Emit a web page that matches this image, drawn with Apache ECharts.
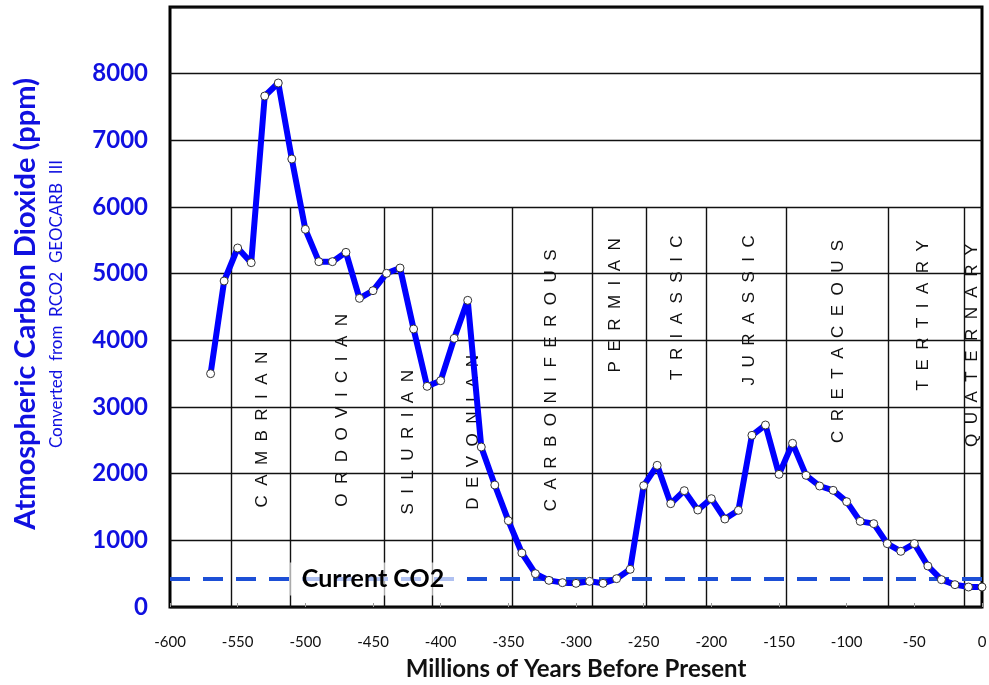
<!DOCTYPE html>
<html>
<head>
<meta charset="utf-8">
<script src="https://cdn.jsdelivr.net/npm/echarts@6/dist/echarts.min.js"></script>
<style>
html,body{margin:0;padding:0;background:#fff;}
#chart{width:989px;height:685px;}
</style>
</head>
<body>
<div id="chart"></div>
<script>
// Millions of years before present (x) and CO2 ppm (y)
var years = [-570,-560,-550,-540,-530,-520,-510,-500,-490,-480,-470,-460,-450,-440,-430,-420,-410,-400,-390,-380,-370,-360,-350,-340,-330,-320,-310,-300,-290,-280,-270,-260,-250,-240,-230,-220,-210,-200,-190,-180,-170,-160,-150,-140,-130,-120,-110,-100,-90,-80,-70,-60,-50,-40,-30,-20,-10,0];
var co2 = [3500,4890,5385,5165,7665,7860,6720,5665,5180,5180,5320,4630,4745,5005,5085,4170,3310,3395,4030,4600,2400,1830,1295,810,500,400,365,355,385,355,425,565,1820,2125,1550,1745,1455,1625,1320,1450,2575,2730,1990,2455,1975,1815,1750,1580,1285,1250,950,835,950,615,410,335,300,300];

// Geological period boundaries (as drawn) and label placement
var periodBoundaries = [-555,-511,-442,-406,-347,-288,-248,-204,-145,-69,-13];
var periodNames = ['CAMBRIAN','ORDOVICIAN','SILURIAN','DEVONIAN','CARBONIFEROUS','PERMIAN','TRIASSIC','JURASSIC','CRETACEOUS','TERTIARY','QUATERNARY'];
var periodLabelX = [-532,-473,-424,-376,-318,-271,-225,-172,-106,-43,-7];
var periodLabelY = [2660,2950,2470,2620,3400,4525,4490,4450,3985,4375,3925];
var periodLineTop = 6000;

var currentCO2 = 420;
var currentLabel = 'Current CO2';
var currentLabelX = -450;

var xTicks = {min:-600, max:0, interval:50};
var yTicks = {min:0, max:9000, interval:1000};

var chart = echarts.init(document.getElementById('chart'));

var lineData = years.map(function(y,i){return [y, co2[i]];});
var boundaryLines = periodBoundaries.map(function(b){
  return [{coord:[b,0]},{coord:[b,periodLineTop]}];
});
var labelData = periodNames.map(function(n,i){
  return {name:n.split('').join('  '), value:[periodLabelX[i], periodLabelY[i]]};
});

chart.setOption({
  animation:false,
  backgroundColor:'#fff',
  grid:{left:170, right:7, top:7, bottom:78, outerBoundsMode:'none', containLabel:false,
        show:true, borderColor:'#000', borderWidth:3, backgroundColor:'transparent'},
  xAxis:{
    type:'value', min:xTicks.min, max:xTicks.max, interval:xTicks.interval,
    name:'Millions of Years Before Present', nameLocation:'middle', nameGap:50,
    nameTextStyle:{fontFamily:'Lato', fontWeight:'bold', fontSize:24, color:'#111'},
    axisLine:{show:false},
    axisTick:{show:true, inside:true, length:4, lineStyle:{color:'#999', width:1}},
    axisLabel:{fontFamily:'Lato', fontSize:15, color:'#111', margin:28},
    splitLine:{show:false}
  },
  yAxis:{
    type:'value', min:yTicks.min, max:yTicks.max, interval:yTicks.interval,
    axisLine:{show:false}, axisTick:{show:false},
    axisLabel:{fontFamily:'Lato', fontWeight:'bold', fontSize:24, color:'#1010e0', margin:22,
      formatter:function(v){return v>=9000?'':String(v);}},
    splitLine:{show:true, lineStyle:{color:'#111', width:1.3}}
  },
  graphic:[
    {type:'text', left:11, top:78, rotation:Math.PI/2, silent:true,
     style:{text:'Atmospheric Carbon Dioxide (ppm)', fontFamily:'Lato', fontWeight:'bold', fontSize:29, fill:'#1010e0'}},
    {type:'text', left:48, top:160, rotation:Math.PI/2, silent:true,
     style:{text:'Converted  from  RCO2  GEOCARB  III', fontFamily:'Lato', fontSize:17, fill:'#1010e0'}}
  ],
  series:[
    {
      type:'line', data:[], z:1, silent:true,
      markLine:{z:1, silent:true, symbol:['none','none'], label:{show:false},
        lineStyle:{color:'#111', width:1.4, type:'solid'}, data:boundaryLines}
    },
    {
      type:'line', data:[], z:2, silent:true,
      markLine:{z:2, silent:true, symbol:['none','none'], label:{show:false},
        lineStyle:{color:'#1d4fd6', width:4, type:[20,13]}, data:[{yAxis:currentCO2}]}
    },
    {
      type:'scatter', z:4, symbolSize:0, silent:true,
      itemStyle:{color:'transparent', opacity:1},
      data:[{name:currentLabel, value:[currentLabelX, currentCO2]}],
      label:{show:true, position:'inside', formatter:'{b}', fontFamily:'Lato', fontWeight:'bold', fontSize:25, color:'#000',
        textBorderWidth:0, textBorderColor:'transparent',
        backgroundColor:'rgba(255,255,255,0.65)', padding:[4,12]}
    },
    {
      type:'scatter', z:4, symbolSize:0, silent:true,
      itemStyle:{color:'transparent', opacity:1},
      data:labelData,
      label:{show:true, position:'inside', rotate:90, formatter:'{b}', fontFamily:'Liberation Sans', fontSize:17, color:'#111',
        textBorderWidth:0, textBorderColor:'transparent'}
    },
    {
      type:'line', z:6, data:lineData,
      symbol:'circle', symbolSize:8, showSymbol:true,
      lineStyle:{color:'#0000ff', width:6},
      itemStyle:{color:'#fff', borderColor:'#333', borderWidth:1}
    }
  ]
});
</script>
</body>
</html>
